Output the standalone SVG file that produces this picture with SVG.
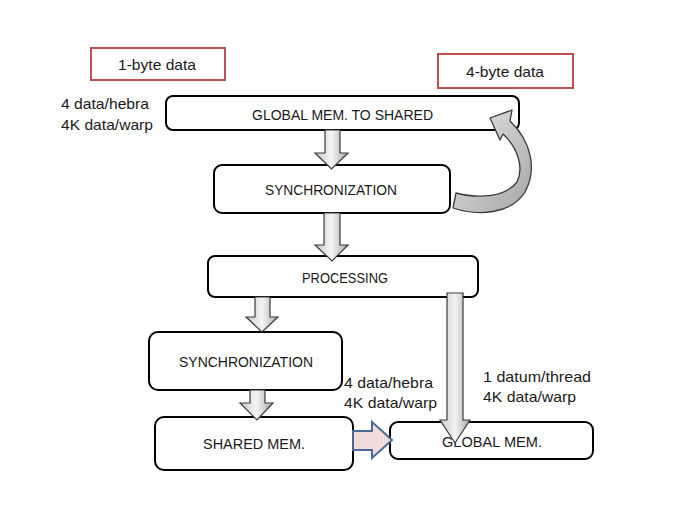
<svg xmlns="http://www.w3.org/2000/svg" width="685" height="513" viewBox="0 0 685 513">
<style>
text{font-family:"Liberation Sans",Arial,sans-serif;font-size:15px;fill:#1a1a1a}
.box{fill:#fff;stroke:#000;stroke-width:2}
.lbl{fill:#fff;stroke:#c0504d;stroke-width:2}
.arr{fill:url(#g);stroke:#3a3a3a;stroke-width:1.2;stroke-linejoin:miter}
</style>
<defs>
<linearGradient id="g" x1="0" y1="0" x2="1" y2="0">
<stop offset="0" stop-color="#c8c8c8"/>
<stop offset="0.5" stop-color="#f4f4f4"/>
<stop offset="1" stop-color="#a8a8a8"/>
</linearGradient>
<linearGradient id="gc" x1="0" y1="0" x2="1" y2="1">
<stop offset="0" stop-color="#e6e6e6"/>
<stop offset="1" stop-color="#a6a6a6"/>
</linearGradient>
</defs>
<rect width="685" height="513" fill="#fff"/>
<g id="label1"><rect class="lbl" x="91" y="48" width="134" height="32"/><text x="118" y="70" textLength="78" lengthAdjust="spacingAndGlyphs">1-byte data</text></g>
<g id="label4"><rect class="lbl" x="438" y="54" width="135" height="34"/><text x="466" y="77" textLength="78" lengthAdjust="spacingAndGlyphs">4-byte data</text></g>
<g id="note1"><text x="61" y="109" textLength="88" lengthAdjust="spacingAndGlyphs">4 data/hebra</text><text x="61" y="130" textLength="92" lengthAdjust="spacingAndGlyphs">4K data/warp</text></g>
<g id="n_global_to_shared"><rect class="box" x="166" y="96" width="353" height="34" rx="7"/><text x="252" y="120" textLength="181" lengthAdjust="spacingAndGlyphs">GLOBAL MEM. TO SHARED</text></g>
<g id="n_sync1"><rect class="box" x="214" y="165" width="236" height="48" rx="8"/><text x="265" y="195" textLength="132" lengthAdjust="spacingAndGlyphs">SYNCHRONIZATION</text></g>
<g id="n_processing"><rect class="box" x="208" y="256" width="270" height="41" rx="7"/><text x="302" y="283" textLength="86" lengthAdjust="spacingAndGlyphs">PROCESSING</text></g>
<g id="n_sync2"><rect class="box" x="149" y="332" width="193" height="58" rx="9"/><text x="179" y="367" textLength="134" lengthAdjust="spacingAndGlyphs">SYNCHRONIZATION</text></g>
<g id="n_shared"><rect class="box" x="155" y="417" width="198" height="53" rx="9"/><text x="203" y="449" textLength="102" lengthAdjust="spacingAndGlyphs">SHARED MEM.</text></g>
<g id="n_global"><rect class="box" x="390" y="422" width="203" height="37" rx="8"/><text x="442" y="447" textLength="100" lengthAdjust="spacingAndGlyphs">GLOBAL MEM.</text></g>
<g id="note2"><text x="344" y="388" textLength="89" lengthAdjust="spacingAndGlyphs">4 data/hebra</text><text x="344" y="408" textLength="93" lengthAdjust="spacingAndGlyphs">4K data/warp</text></g>
<g id="note3"><text x="483" y="382" textLength="108" lengthAdjust="spacingAndGlyphs">1 datum/thread</text><text x="483" y="402" textLength="93" lengthAdjust="spacingAndGlyphs">4K data/warp</text></g>
<g id="connectors">
<polygon class="arr" points="325,130 340,130 340,153 348,153 331.5,169 315,153 325,153"/>
<polygon class="arr" points="324,213 340,213 340,245 348,245 332,261 315,245 324,245"/>
<polygon class="arr" points="255,297 270,297 270,317 278,317 262,332 246,317 255,317"/>
<polygon class="arr" points="250,390 265,390 265,403 273,403 257,420 240,403 250,403"/>
<polygon class="arr" points="447,293 463,293 463,420 470,420 455,443 440,420 447,420"/>
<path d="M453,208 C480,217 512,213 525,192 C537,170 532,142 510,121 L512,110 L490,118 L500,140 L503,134 C518,148 524,168 517,182 C505,197 480,199 456,193 Z" fill="url(#gc)" stroke="#3a3a3a" stroke-width="1.3" stroke-linejoin="round"/>
<polygon points="353,431 372,431 372,422 392,440 372,458 372,450 353,450" fill="#f2dcdb" stroke="#4a6b9a" stroke-width="2"/>
</g>
</svg>
